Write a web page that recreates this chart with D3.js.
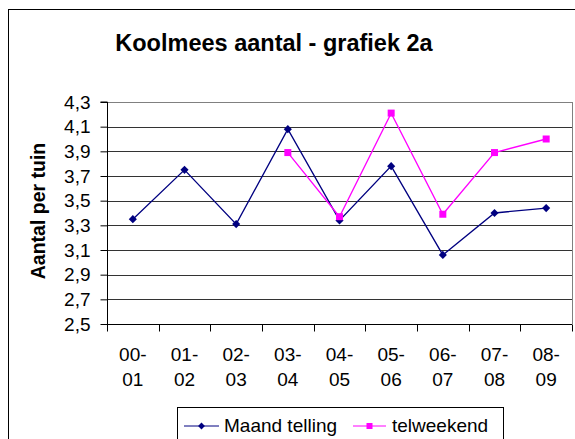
<!DOCTYPE html>
<html><head><meta charset="utf-8">
<script src="https://cdn.jsdelivr.net/npm/d3@7"></script>
<style>body{margin:0;background:#fff}svg{display:block;font-family:Arial,"Liberation Sans",sans-serif}</style>
</head><body><svg id="c" width="575" height="439"></svg>
<script>
const categories = ["00-01","01-02","02-03","03-04","04-05","05-06","06-07","07-08","08-09"];
const maandTelling = [3.35,3.75,3.31,4.08,3.34,3.78,3.06,3.40,3.44];
const telweekend = [null,null,null,3.89,3.37,4.21,3.39,3.89,4.00];
const yTicks = [2.5,2.7,2.9,3.1,3.3,3.5,3.7,3.9,4.1,4.3];
const title = "Koolmees aantal - grafiek 2a";
const yTitle = "Aantal per tuin";
const seriesNames = ["Maand telling","telweekend"];

const svg = d3.select("#c");
const L=107,R=572,T=102,B=324;
svg.append("rect").attr("x",8.5).attr("y",9.5).attr("width",600).attr("height",500).attr("fill","#fff").attr("stroke","#000");

const x = d3.scaleBand().domain(categories).range([L,R]);
const y = d3.scaleLinear().domain([2.5,4.3]).range([B,T]);

// gridlines
svg.append("g").selectAll("line").data(yTicks.slice(1)).join("line")
 .attr("x1",L).attr("x2",R).attr("y1",d=>Math.round(y(d))+0.5).attr("y2",d=>Math.round(y(d))+0.5)
 .attr("stroke","#333").attr("stroke-width",1);
// plot border right
svg.append("line").attr("x1",R+0.5).attr("x2",R+0.5).attr("y1",T).attr("y2",B).attr("stroke","#808080").attr("stroke-width",1);
svg.append("line").attr("x1",L).attr("x2",R).attr("y1",T+0.5).attr("y2",T+0.5).attr("stroke","#808080");

// y axis
const ya = svg.append("g").attr("transform",`translate(${L+0.5},0)`)
 .call(d3.axisLeft(y).tickValues(yTicks).tickSize(7).tickPadding(10).tickFormat(d=>d3.format(".1f")(d).replace(".",",")));
ya.select(".domain").attr("stroke","#000").attr("d",`M-7,${T}H0V${B}`);
ya.selectAll(".tick line").attr("stroke","#000");
ya.selectAll(".tick text").attr("font-size",19).attr("fill","#000").attr("font-family","Arial,'Liberation Sans',sans-serif");

// x axis
const xa = svg.append("g").attr("transform",`translate(0,${B+0.5})`);
xa.append("line").attr("x1",L).attr("x2",R).attr("stroke","#000");
const xt = [...categories.map(c=>x(c)), R];
xa.selectAll("line.t").data(xt).join("line").attr("class","t")
 .attr("x1",d=>Math.round(d)+0.5).attr("x2",d=>Math.round(d)+0.5).attr("y1",0).attr("y2",7).attr("stroke","#000");
const xl = xa.selectAll("text").data(categories).join("text")
 .attr("x",d=>x(d)+x.bandwidth()/2).attr("text-anchor","middle").attr("font-size",19).attr("fill","#000");
xl.append("tspan").attr("x",d=>x(d)+x.bandwidth()/2).attr("y",36).text(d=>d.split("-")[0]+"-");
xl.append("tspan").attr("x",d=>x(d)+x.bandwidth()/2).attr("y",61).text(d=>d.split("-")[1]);

// titles
svg.append("text").attr("x",274).attr("y",51).attr("text-anchor","middle").attr("font-size",23.5).attr("font-weight","bold").text(title);
svg.append("text").attr("transform",`translate(45,${211}) rotate(-90)`).attr("text-anchor","middle").attr("font-size",19.5).attr("font-weight","bold").text(yTitle);

const cx = (i)=>x(categories[i])+x.bandwidth()/2;
const line = d3.line().defined(d=>d.v!=null).x(d=>cx(d.i)).y(d=>y(d.v));
const s1 = maandTelling.map((v,i)=>({v,i}));
const s2 = telweekend.map((v,i)=>({v,i}));
svg.append("path").attr("d",line(s1)).attr("fill","none").attr("stroke","#000080").attr("stroke-width",1.3);
svg.append("path").attr("d",line(s2)).attr("fill","none").attr("stroke","#FF00FF").attr("stroke-width",1.3);
const diamond = d3.symbol().type(d3.symbolDiamond2).size(42);
svg.append("g").selectAll("path").data(s1.filter(d=>d.v!=null)).join("path")
 .attr("d",diamond).attr("transform",d=>`translate(${cx(d.i)},${y(d.v)})`).attr("fill","#000080");
svg.append("g").selectAll("rect").data(s2.filter(d=>d.v!=null)).join("rect")
 .attr("x",d=>cx(d.i)-3.5).attr("y",d=>y(d.v)-3.5).attr("width",7).attr("height",7).attr("fill","#FF00FF");

// legend
const lg = svg.append("g");
lg.append("rect").attr("x",177.5).attr("y",407.5).attr("width",326).attr("height",40).attr("fill","#fff").attr("stroke","#000");
lg.append("line").attr("x1",184).attr("x2",219).attr("y1",426).attr("y2",426).attr("stroke","#000080").attr("stroke-width",1);
lg.append("path").attr("d",d3.symbol().type(d3.symbolDiamond2).size(30)).attr("transform","translate(201.5,426)").attr("fill","#000080");
lg.append("text").attr("x",224).attr("y",432).attr("font-size",19).text(seriesNames[0]);
lg.append("line").attr("x1",353).attr("x2",386).attr("y1",426).attr("y2",426).attr("stroke","#FF00FF").attr("stroke-width",1);
lg.append("rect").attr("x",366.5).attr("y",423).attr("width",6).attr("height",6).attr("fill","#FF00FF");
lg.append("text").attr("x",392).attr("y",432).attr("font-size",19).text(seriesNames[1]);
</script></body></html>
